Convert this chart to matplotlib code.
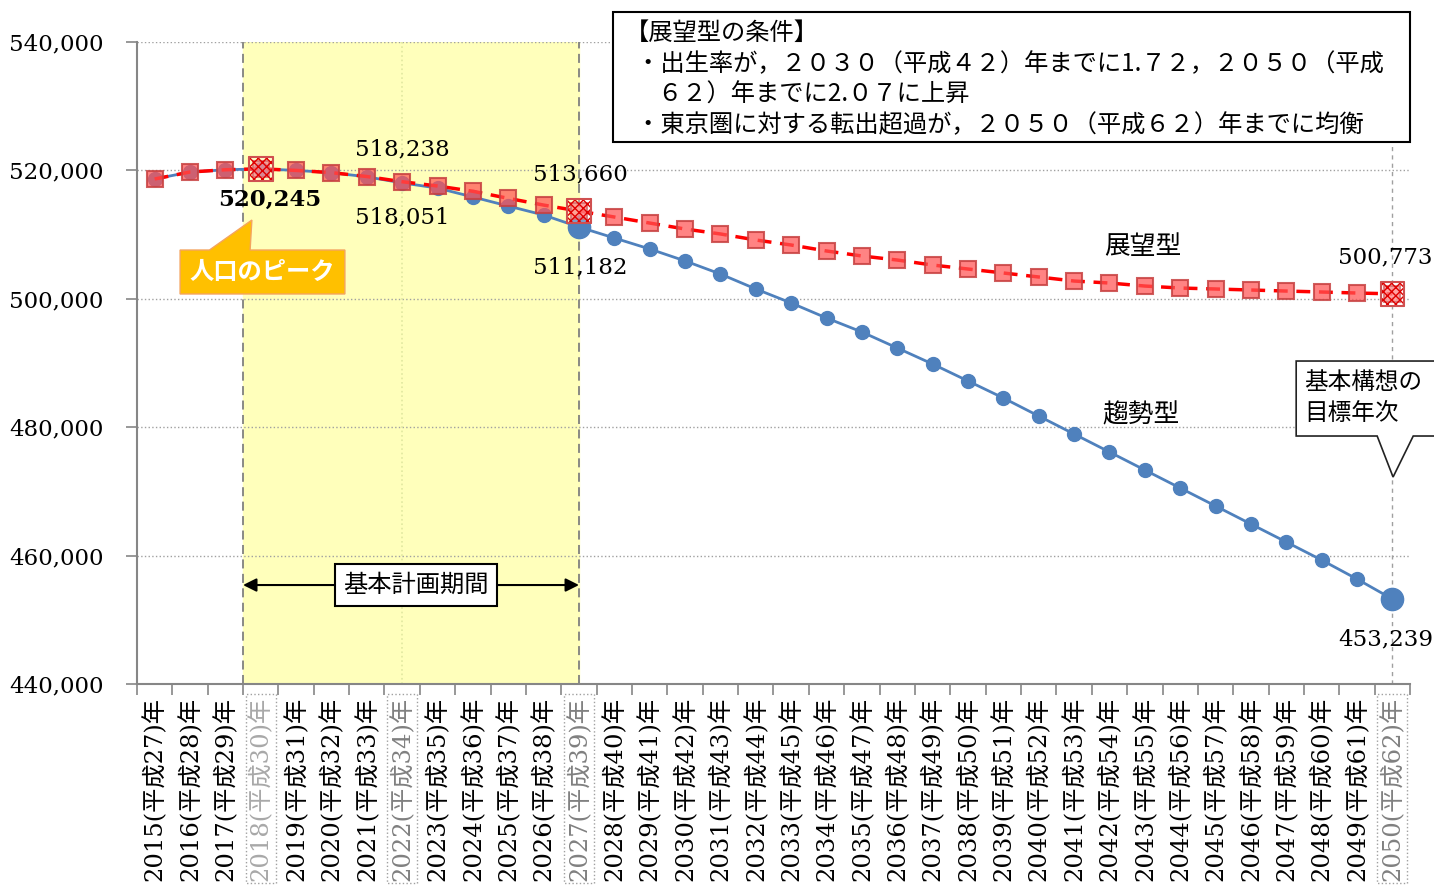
import numpy as np
import matplotlib
matplotlib.use("Agg")
import matplotlib.pyplot as plt
from matplotlib.patches import Polygon, Rectangle

plt.rcParams['font.family'] = ['DejaVu Serif', 'Noto Sans CJK JP']
CJK = ['Noto Sans CJK JP', 'DejaVu Sans']

years = list(range(2015, 2051))
heisei = [y - 1988 for y in years]
labels = [f"{y}(平成{h})年" for y, h in zip(years, heisei)]

# 趨勢型 (trend)
trend = [518660, 519750, 520100, 520245, 520000, 519650, 519000, 518051,
         517250, 515860, 514450, 513050, 511182, 509470, 507760, 505900,
         503860, 501530, 499350, 497010, 494830, 492340, 489840, 487200,
         484550, 481740, 478940, 476140, 473330, 470530, 467730, 464920,
         462120, 459310, 456350, 453239]
# 展望型 (vision)
vision = [518660, 519750, 520100, 520245, 520000, 519650, 519050, 518238,
          517570, 516750, 515650, 514600, 513660, 512740, 511800, 510870,
          510100, 509160, 508380, 507450, 506670, 506040, 505260, 504640,
          504020, 503400, 502770, 502460, 501990, 501680, 501530, 501370,
          501210, 501060, 500900, 500773]

key_idx = [3, 12, 35]          # 2018, 2027, 2050
boxed_ticks = [3, 7, 12, 35]   # 2018, 2022, 2027, 2050

x = np.arange(len(years))

fig = plt.figure(figsize=(14.34, 8.88), dpi=100)
ax = fig.add_axes([0.0955, 0.2297, 0.8878, 0.7230])

ax.set_xlim(-0.5, len(years) - 0.5)
ax.set_ylim(440000, 540000)

# plan period shading
ax.axvspan(2.5, 12, color='#FFFFBB', zorder=0)
for xv in [2.5, 12]:
    ax.axvline(xv, color='#808080', ls=(0, (5, 3)), lw=1.3, zorder=1)
ax.axvline(7, color='#E0E8A0', ls=':', lw=1.2, zorder=1)
ax.axvline(35, color='#A0A0A0', ls=(0, (3, 3)), lw=1, zorder=1)

ax.set_yticks(np.arange(440000, 540001, 20000))
ax.set_yticklabels([f"{v:,}" for v in range(440000, 540001, 20000)], fontsize=16.5)
ax.yaxis.grid(True, color='#A0A0A0', ls=':', lw=1)
ax.set_axisbelow(True)

ax.set_xticks(x)
ax.set_xticklabels(labels, rotation=90, fontsize=17.5)
ax.set_xticks(np.arange(-0.5, len(years)), minor=True)
ax.tick_params(axis='x', which='major', length=0, pad=9)
ax.tick_params(axis='x', which='minor', length=8, color='#868686', width=1.2)
ax.tick_params(axis='y', length=8, color='#868686', width=1.2, pad=16)

for i, t in enumerate(ax.get_xticklabels()):
    if i in boxed_ticks:
        t.set_color('#A8A8A8' if i == 3 else '#808080')
        t.set_bbox(dict(facecolor='none', edgecolor='#A0A0A0', ls=':', lw=1, pad=2))

for s in ['top', 'right']:
    ax.spines[s].set_visible(False)
for s in ['left', 'bottom']:
    ax.spines[s].set_color('#868686')
    ax.spines[s].set_linewidth(1.5)

blue = '#4F81BD'
ax.plot(x, trend, color=blue, lw=2, marker='o', ms=10, mfc=blue, mec=blue, zorder=3)
ax.plot(x[key_idx[1:]], np.array(trend)[key_idx[1:]], ls='none', marker='o', ms=16,
        color=blue, zorder=3)

ax.plot(x, vision, color='#FF0000', lw=2.5, ls=(0, (4, 2.5)), zorder=4)
ax.plot(x, vision, ls='none', marker='s', ms=11, mfc=(1, 0.33, 0.33, 0.72),
        mec=(0.78, 0.25, 0.25, 0.85), mew=1.5, zorder=5)
ax.scatter(x[key_idx], np.array(vision)[key_idx], marker='s', s=290,
           facecolor=(1, 1, 1, 0.25), edgecolor='#E00000', hatch='xxxx', lw=1.2, zorder=6)
ax.scatter(x[key_idx], np.array(vision)[key_idx], marker='s', s=290,
           facecolor='none', edgecolor='#D05050', lw=1.5, zorder=6)

# value labels
fs = 16.5
ax.text(7, 523300, f"{vision[7]:,}", ha='center', va='center', fontsize=fs)
ax.text(7, 512600, f"{trend[7]:,}", ha='center', va='center', fontsize=fs)
ax.text(3.26, 515400, f"{trend[3]:,}", ha='center', va='center', fontsize=fs, fontweight='bold')
ax.text(12.03, 519450, f"{vision[12]:,}", ha='center', va='center', fontsize=fs)
ax.text(12.03, 504950, f"{trend[12]:,}", ha='center', va='center', fontsize=fs)
ax.text(34.8, 506500, f"{vision[35]:,}", ha='center', va='center', fontsize=fs, clip_on=False)
ax.text(34.8, 447000, f"{trend[35]:,}", ha='center', va='center', fontsize=fs, clip_on=False)

ax.text(27.95, 508070, "展望型", ha='center', va='center', fontsize=18.5, family=CJK)
ax.text(27.9, 481900, "趨勢型", ha='center', va='center', fontsize=18.5, family=CJK)

# 人口のピーク callout
peak = Polygon([(0.72, 507600), (1.55, 507600), (2.75, 512270), (2.70, 507600),
                (5.38, 507600), (5.38, 500750), (0.72, 500750)],
               closed=True, facecolor='#FFC000', edgecolor='#F4A460', lw=1, zorder=7)
ax.add_patch(peak)
ax.text(3.05, 504170, "人口のピーク", ha='center', va='center', fontsize=17.5,
        color='white', fontweight='bold', family=CJK, zorder=8)

# 基本構想の目標年次 callout
goal = Polygon([(32.28, 490310), (36.4, 490310), (36.4, 478630), (35.59, 478630),
                (35.02, 472240), (34.57, 478630), (32.28, 478630)],
               closed=True, facecolor='white', edgecolor='#222222', lw=1.2,
               zorder=7, clip_on=False)
ax.add_patch(goal)
ax.text(32.5, 487000, "基本構想の", ha='left', va='center', fontsize=17, family=CJK, zorder=8,
        clip_on=False)
ax.text(32.5, 482150, "目標年次", ha='left', va='center', fontsize=17, family=CJK, zorder=8,
        clip_on=False)

# 基本計画期間 arrow
ax.annotate("", xy=(2.5, 455420), xytext=(12, 455420),
            arrowprops=dict(arrowstyle='<|-|>', color='black', lw=1.5, mutation_scale=20,
                            shrinkA=0, shrinkB=0), zorder=7)
ax.text(7.4, 455420, "基本計画期間", ha='center', va='center', fontsize=17.5, family=CJK,
        zorder=8, bbox=dict(facecolor='white', edgecolor='black', lw=1.5, pad=6))

# 展望型の条件 box
ax.add_patch(Rectangle((12.96, 524420), 35.5 - 12.96, 544670 - 524420, facecolor='white',
                       edgecolor='black', lw=1.5, zorder=7, clip_on=False))
cond = ["【展望型の条件】",
        "  ・出生率が，２０３０（平成４２）年までに1.７２，２０５０（平成",
        "      ６２）年までに2.０７に上昇",
        "  ・東京圏に対する転出超過が，２０５０（平成６２）年までに均衡"]
cond_y = [541400, 536600, 531800, 527000]
for line, yy in zip(cond, cond_y):
    ax.text(13.3, yy, line, ha='left', va='center', fontsize=17.5, family=CJK,
            zorder=8, clip_on=False)

fig.savefig("out.png", dpi=100)
